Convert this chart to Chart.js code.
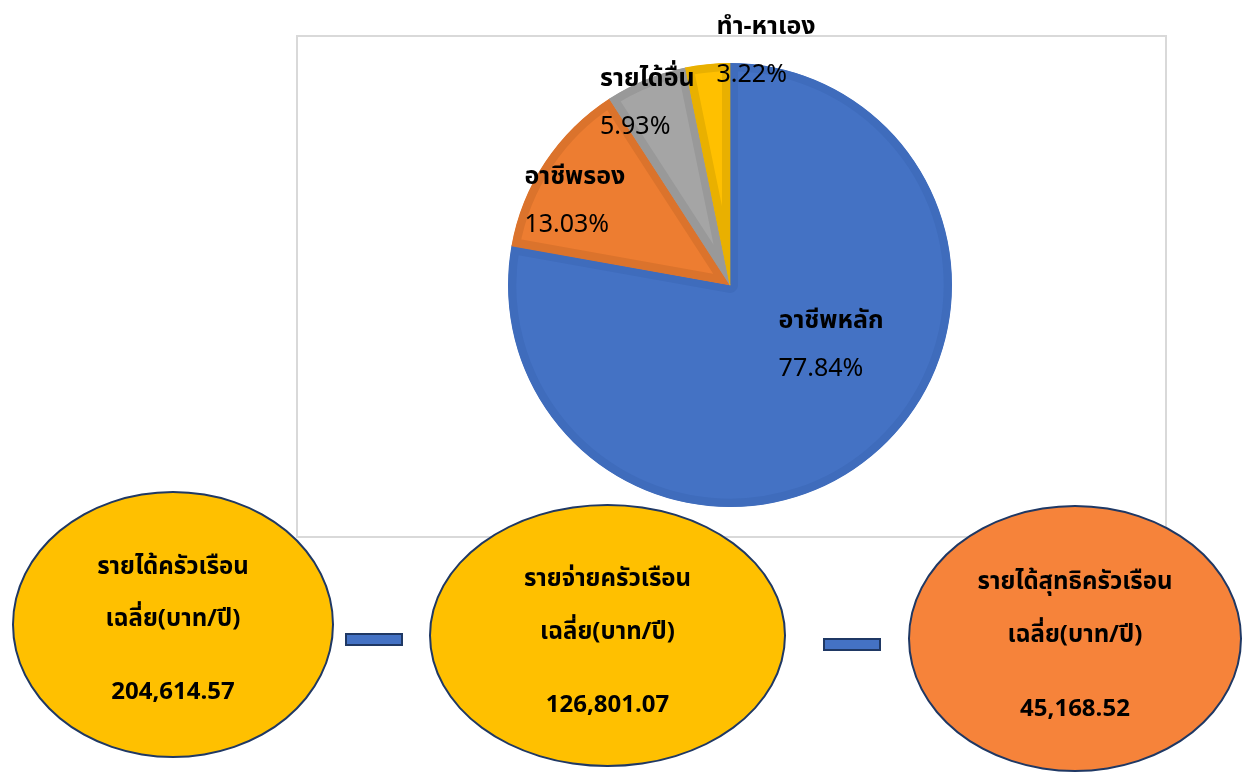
<!DOCTYPE html>
<html lang="th">
<head>
<meta charset="utf-8">
<script src="https://cdn.jsdelivr.net/npm/chart.js@4.4.0/dist/chart.umd.min.js"></script>
<style>
  body { margin: 0; width: 1242px; height: 773px; background: #fff; overflow: hidden; position: relative;
         font-family: Tahoma, "Noto Sans Thai", "Noto Sans", sans-serif; }
  #frame { position: absolute; left: 296px; top: 35px; width: 867px; height: 499px; border: 2px solid #d9d9d9; }
  #pieWrap { position: absolute; left: 0; top: 0; width: 1242px; height: 540px; }
  .oval { position: absolute; border: 2.5px solid #1f3864; border-radius: 50%; box-sizing: border-box; }
  .oval span { position: absolute; left: 0; right: 0; text-align: center; font-weight: bold; font-size: 24px;
               color: #000; transform: translateY(-50%); white-space: nowrap; }
  .dash { position: absolute; background: #4472c4; border: 2px solid #1f3864; box-sizing: border-box; }
</style>
</head>
<body>
<div id="frame"></div>
<div id="pieWrap"><canvas id="pieChart" width="1242" height="540"></canvas></div>
<div id="ovals"></div>

<script>
// ข้อมูลสัดส่วนรายได้ (%)
const categories = ['อาชีพหลัก', 'อาชีพรอง', 'รายได้อื่น', 'ทำ-หาเอง'];
const shares = [77.84, 13.03, 5.93, 3.22];

// ข้อมูลสรุปครัวเรือน
const summaryTitles = ['รายได้ครัวเรือน', 'รายจ่ายครัวเรือน', 'รายได้สุทธิครัวเรือน'];
const summaryUnit = 'เฉลี่ย(บาท/ปี)';
const summaryValues = [204614.57, 126801.07, 45168.52];

const FONT = 'Tahoma, "Noto Sans Thai", "Noto Sans", sans-serif';

// สีของแต่ละชิ้น
const sliceColors = ['#4472c4', '#ed7d31', '#a5a5a5', '#ffc000'];
const sliceBorders = ['#3f6cbc', '#db732c', '#999999', '#e9b000'];

// ตำแหน่งป้าย: เลื่อนมุม (องศา) และสัดส่วนรัศมี
const labelShift = [-18.6, -5.8, -2.4, 14.6];
const labelRadius = [0.534, 0.79, 0.892, 1.06];

const sliceLabels = {
  id: 'sliceLabels',
  afterDatasetsDraw(chart) {
    const ctx = chart.ctx;
    const meta = chart.getDatasetMeta(0);
    meta.data.forEach((arc, i) => {
      const p = arc.getProps(['x', 'y', 'startAngle', 'endAngle', 'outerRadius'], true);
      const a = (p.startAngle + p.endAngle) / 2 + labelShift[i] * Math.PI / 180;
      const r = p.outerRadius * labelRadius[i];
      const cx = p.x + Math.cos(a) * r;
      const cy = p.y + Math.sin(a) * r;
      const pct = shares[i].toFixed(2) + '%';
      ctx.save();
      ctx.font = 'bold 25px ' + FONT;
      const w1 = ctx.measureText(categories[i]).width;
      ctx.font = '25px ' + FONT;
      const w2 = ctx.measureText(pct).width;
      const left = cx - Math.max(w1, w2) / 2;
      ctx.fillStyle = '#000';
      ctx.textBaseline = 'middle';
      ctx.textAlign = 'left';
      ctx.font = 'bold 25px ' + FONT;
      ctx.fillText(categories[i], left, cy - 24);
      ctx.font = '25px ' + FONT;
      ctx.fillText(pct, left, cy + 24);
      ctx.restore();
    });
  }
};

const ctxPie = document.getElementById('pieChart').getContext('2d');
const pieChart = new Chart(ctxPie, {
  type: 'pie',
  data: {
    labels: categories,
    datasets: [{
      data: shares,
      backgroundColor: sliceColors,
      borderColor: sliceBorders,
      borderWidth: 8,
      borderAlign: 'inner',
      hoverOffset: 0,
    }]
  },
  options: {
    responsive: false,
    animation: false,
    events: [],
    layout: { padding: { left: 508, right: 290, top: 63, bottom: 33 } },
    plugins: { legend: { display: false }, tooltip: { enabled: false } },
  },
  plugins: [sliceLabels],
});

// วงรีสรุปด้านล่าง
const ovalBoxes = [
  { left: 12, top: 491, width: 322, height: 267, fill: '#ffc000', lines: [74, 126, 199] },
  { left: 429, top: 504, width: 357, height: 263, fill: '#ffc000', lines: [73, 126, 199] },
  { left: 908, top: 505, width: 334, height: 267, fill: '#f6833a', lines: [75, 128, 202] },
];
const dashes = [
  { left: 345, top: 633, width: 58, height: 13 },
  { left: 823, top: 638, width: 58, height: 13 },
];

const holder = document.getElementById('ovals');
ovalBoxes.forEach((b, i) => {
  const el = document.createElement('div');
  el.className = 'oval';
  Object.assign(el.style, { left: b.left + 'px', top: b.top + 'px', width: b.width + 'px', height: b.height + 'px', background: b.fill });
  const texts = [summaryTitles[i], summaryUnit,
    summaryValues[i].toLocaleString('en-US', { minimumFractionDigits: 2, maximumFractionDigits: 2 })];
  texts.forEach((t, j) => {
    const s = document.createElement('span');
    s.textContent = t;
    s.style.top = b.lines[j] + 'px';
    el.appendChild(s);
  });
  holder.appendChild(el);
});
dashes.forEach(d => {
  const el = document.createElement('div');
  el.className = 'dash';
  Object.assign(el.style, { left: d.left + 'px', top: d.top + 'px', width: d.width + 'px', height: d.height + 'px' });
  holder.appendChild(el);
});
</script>
</body>
</html>
